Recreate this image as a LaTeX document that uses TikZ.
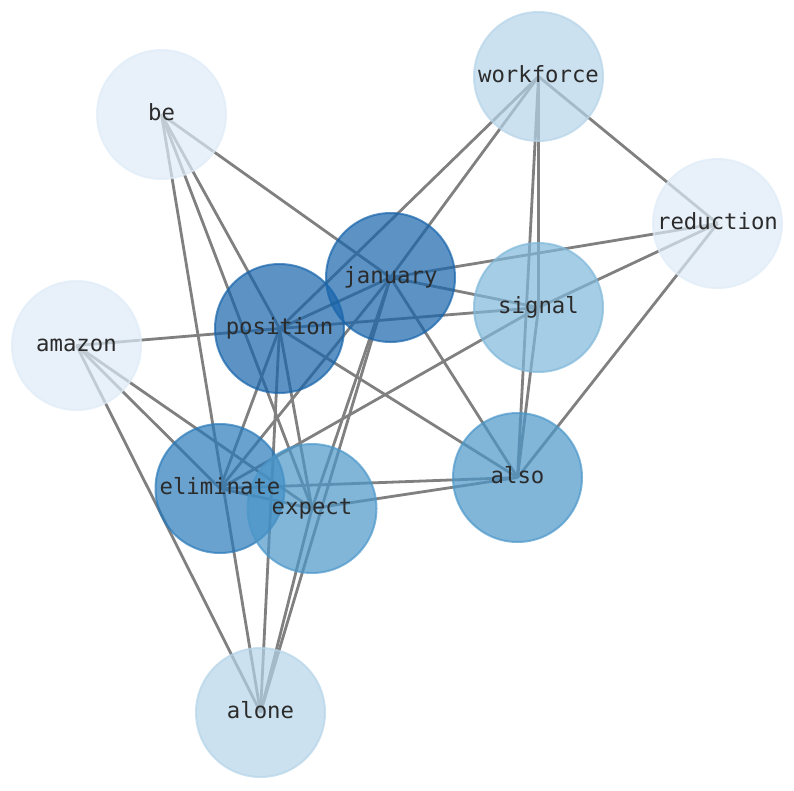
\documentclass[tikz,border=0pt]{standalone}
\usepackage{fontspec}
\setmonofont{DejaVu Sans Mono}
\usepackage{tikz}
\usepackage{xcolor}
\usetikzlibrary{backgrounds}
\definecolor{bluesA}{HTML}{DEEBF7}
\definecolor{bluesB}{HTML}{B5D4E9}
\definecolor{bluesC}{HTML}{7FB8DA}
\definecolor{bluesD}{HTML}{4B97C9}
\definecolor{bluesE}{HTML}{2A7AB9}
\definecolor{bluesF}{HTML}{1764AB}
\definecolor{link-gray}{HTML}{808080}
\definecolor{word-text}{HTML}{2B2B2B}
\tikzset{
    word-node/.style = {circle, minimum size=129pt, inner sep=0pt, line width=2pt, draw=#1, fill=#1, fill opacity=0.7, draw opacity=0.7},
    word-label/.style = {inner sep=0pt, text=word-text, font=\ttfamily\fontsize{22.3}{26}\selectfont, text height=16pt, text depth=5pt},
    link/.style = {draw=link-gray, line width=2.8pt},
}

\begin{document}
\begin{tikzpicture}[x=1pt, y=-1pt]
\useasboundingbox (0,0) rectangle (794,790);
% words
\node [word-node=bluesA] (be) at (161.5,114.5) {};
\node [word-node=bluesB] (workforce) at (538.5,76.5) {};
\node [word-node=bluesA] (reduction) at (717.5,223.5) {};
\node [word-node=bluesF] (january) at (390.5,277.5) {};
\node [word-node=bluesC] (signal) at (538.5,307.5) {};
\node [word-node=bluesF] (position) at (279.5,328.5) {};
\node [word-node=bluesA] (amazon) at (76.5,345.5) {};
\node [word-node=bluesE] (eliminate) at (220,488.5) {};
\node [word-node=bluesD] (expect) at (312,508.5) {};
\node [word-node=bluesD] (also) at (517.5,477.5) {};
\node [word-node=bluesB] (alone) at (260.5,712.5) {};
% labels on top of every circle
\node [word-label] (be-label) at (be.center) {be};
\node [word-label] (workforce-label) at (workforce.center) {workforce};
\node [word-label] (reduction-label) at (reduction.center) {reduction};
\node [word-label] (january-label) at (january.center) {january};
\node [word-label] (signal-label) at (signal.center) {signal};
\node [word-label] (position-label) at (position.center) {position};
\node [word-label] (amazon-label) at (amazon.center) {amazon};
\node [word-label] (eliminate-label) at (eliminate.center) {eliminate};
\node [word-label] (expect-label) at (expect.center) {expect};
\node [word-label] (also-label) at (also.center) {also};
\node [word-label] (alone-label) at (alone.center) {alone};
% co-occurrence links, behind the words
\begin{pgfonlayer}{background}
\draw [link] (be.center) -- (january.center);
\draw [link] (be.center) -- (position.center);
\draw [link] (be.center) -- (expect.center);
\draw [link] (be.center) -- (alone.center);
\draw [link] (workforce.center) -- (reduction.center);
\draw [link] (workforce.center) -- (january.center);
\draw [link] (workforce.center) -- (position.center);
\draw [link] (workforce.center) -- (signal.center);
\draw [link] (workforce.center) -- (also.center);
\draw [link] (reduction.center) -- (january.center);
\draw [link] (reduction.center) -- (signal.center);
\draw [link] (reduction.center) -- (also.center);
\draw [link] (january.center) -- (signal.center);
\draw [link] (january.center) -- (position.center);
\draw [link] (january.center) -- (eliminate.center);
\draw [link] (january.center) -- (also.center);
\draw [link] (january.center) -- (expect.center);
\draw [link] (january.center) -- (alone.center);
\draw [link] (signal.center) -- (position.center);
\draw [link] (signal.center) -- (eliminate.center);
\draw [link] (signal.center) -- (also.center);
\draw [link] (position.center) -- (amazon.center);
\draw [link] (position.center) -- (eliminate.center);
\draw [link] (position.center) -- (expect.center);
\draw [link] (position.center) -- (also.center);
\draw [link] (position.center) -- (alone.center);
\draw [link] (amazon.center) -- (eliminate.center);
\draw [link] (amazon.center) -- (expect.center);
\draw [link] (amazon.center) -- (alone.center);
\draw [link] (eliminate.center) -- (expect.center);
\draw [link] (eliminate.center) -- (also.center);
\draw [link] (expect.center) -- (also.center);
\draw [link] (expect.center) -- (alone.center);
\end{pgfonlayer}
\end{tikzpicture}
\end{document}
